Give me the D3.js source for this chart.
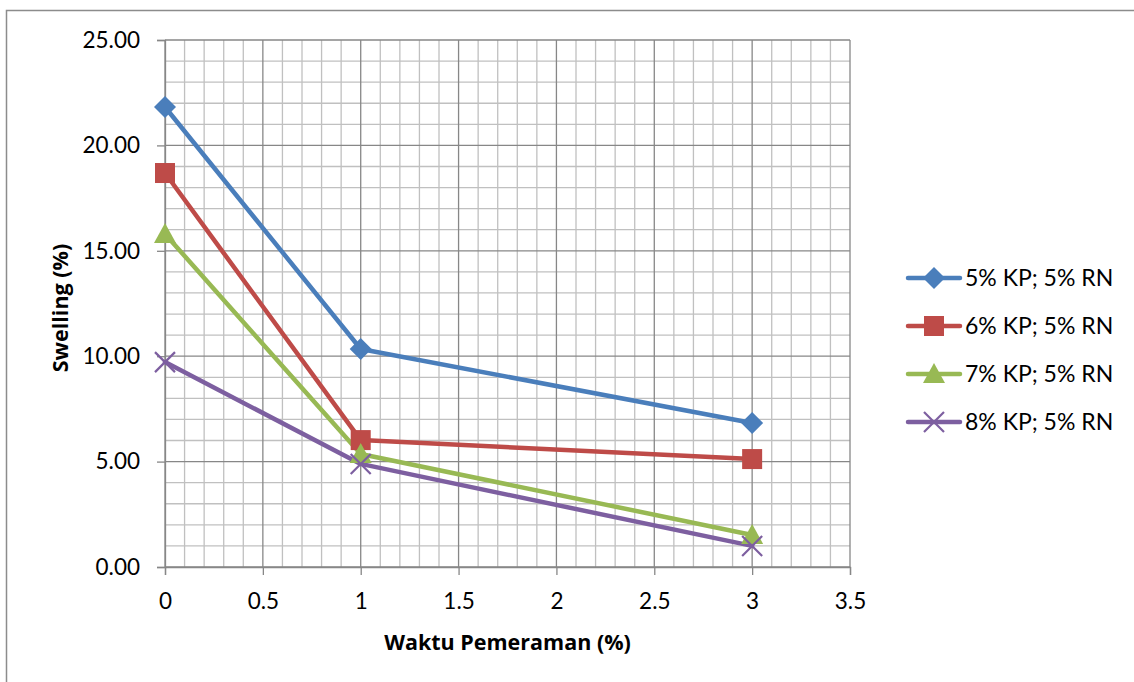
<!DOCTYPE html>
<html>
<head>
<meta charset="utf-8">
<script src="https://cdn.jsdelivr.net/npm/d3@7"></script>
<style>
  body { margin: 0; background: #fff; }
  svg { display: block; font-family: Lato, "Open Sans", sans-serif; }
</style>
</head>
<body>
<div id="chart"></div>
<script>
// Chart size and plot margins.
const WIDTH = 1134;
const HEIGHT = 682;
const M = { left: 165, right: 284, top: 40, bottom: 115 };

// Data.
const xValues = [0, 1, 3];
const seriesNames = ["5% KP; 5% RN", "6% KP; 5% RN", "7% KP; 5% RN", "8% KP; 5% RN"];
const kp5 = [21.82, 10.34, 6.83];
const kp6 = [18.69, 6.02, 5.12];
const kp7 = [15.8, 5.36, 1.52];
const kp8 = [9.72, 4.89, 1.0];
const xTicks = [0, 0.5, 1, 1.5, 2, 2.5, 3, 3.5];
const yTicks = [0, 5, 10, 15, 20, 25];

const COLORS = ["#4a7ebb", "#be4b48", "#98b954", "#7d5fa0"];
const SYMBOLS = ["diamond", "square", "triangle", "cross"];

const series = [kp5, kp6, kp7, kp8].map((vals, i) => ({
  name: seriesNames[i],
  color: COLORS[i],
  symbol: SYMBOLS[i],
  points: vals.map((v, j) => ({ x: xValues[j], y: v })),
}));

let svg = d3
  .select("#chart")
  .append("svg")
  .attr("width", WIDTH)
  .attr("height", HEIGHT);

// Outer chart frame.
svg.append("rect")
  .attr("x", 6.5).attr("y", 10.5)
  .attr("width", WIDTH + 10).attr("height", HEIGHT + 10)
  .attr("fill", "none").attr("stroke", "#8c8c8c").attr("stroke-width", 1.5);

let x = d3.scaleLinear().domain([0, 3.5]).range([M.left, WIDTH - M.right]);
let y = d3.scaleLinear().domain([0, 25]).range([HEIGHT - M.bottom, M.top]);

let grid = svg.append("g");

// Minor gridlines every 0.1 on x and 1 on y.
let minorX = d3.range(1, 35).filter((i) => i % 5 !== 0).map((i) => i / 10);
let minorY = d3.range(1, 25).filter((i) => i % 5 !== 0);

grid.selectAll(".mx").data(minorX).enter().append("line")
  .attr("x1", (d) => x(d)).attr("x2", (d) => x(d))
  .attr("y1", y(0)).attr("y2", y(25))
  .attr("stroke", "#c0c0c0").attr("stroke-width", 1.3);

grid.selectAll(".my").data(minorY).enter().append("line")
  .attr("x1", x(0)).attr("x2", x(3.5))
  .attr("y1", (d) => y(d)).attr("y2", (d) => y(d))
  .attr("stroke", "#c0c0c0").attr("stroke-width", 1.3);

// Major gridlines.
grid.selectAll(".Mx").data(xTicks).enter().append("line")
  .attr("x1", (d) => x(d)).attr("x2", (d) => x(d))
  .attr("y1", y(0)).attr("y2", y(25))
  .attr("stroke", "#878787").attr("stroke-width", 1.3);

grid.selectAll(".My").data(yTicks).enter().append("line")
  .attr("x1", x(0)).attr("x2", x(3.5))
  .attr("y1", (d) => y(d)).attr("y2", (d) => y(d))
  .attr("stroke", "#878787").attr("stroke-width", 1.3);

// Axes.
let xAxis = svg.append("g")
  .attr("transform", "translate(0," + y(0) + ")")
  .call(d3.axisBottom(x).tickValues(xTicks).tickSize(8).tickPadding(18)
    .tickFormat((d) => String(d)));
let yAxis = svg.append("g")
  .attr("transform", "translate(" + x(0) + ",0)")
  .call(d3.axisLeft(y).tickValues(yTicks).tickSize(8).tickPadding(17)
    .tickFormat(d3.format(".2f")));

[xAxis, yAxis].forEach((a) => {
  a.select(".domain").attr("stroke", "#878787").attr("stroke-width", 1.3);
  a.selectAll(".tick line").attr("stroke", "#878787").attr("stroke-width", 1.3);
  a.selectAll("text").attr("font-size", 22.5).attr("fill", "#000")
    .attr("font-family", "Lato, sans-serif");
});

// Axis titles.
svg.append("text")
  .attr("x", (x(0) + x(3.5)) / 2).attr("y", 650)
  .attr("text-anchor", "middle").attr("font-size", 21.5).attr("font-weight", "bold")
  .attr("font-family", "'Open Sans', sans-serif")
  .text("Waktu Pemeraman (%)");
svg.append("text")
  .attr("transform", "translate(68,308) rotate(-90)")
  .attr("text-anchor", "middle").attr("font-size", 21.5).attr("font-weight", "bold")
  .attr("font-family", "'Open Sans', sans-serif")
  .text("Swelling (%)");

let line = d3.line().x((d) => x(d.x)).y((d) => y(d.y));

// Draw a marker of the given kind at the origin of a group.
function drawMarker(g, kind, color) {
  if (kind === "diamond") {
    g.append("path").attr("d", "M0,-11L11,0L0,11L-11,0Z").attr("fill", color);
  } else if (kind === "square") {
    g.append("rect").attr("x", -10).attr("y", -10).attr("width", 20).attr("height", 20)
      .attr("fill", color);
  } else if (kind === "triangle") {
    g.append("path").attr("d", "M0,-11L11,9L-11,9Z").attr("fill", color);
  } else {
    g.append("path").attr("d", "M-10,-10L10,10M-10,10L10,-10")
      .attr("stroke", color).attr("stroke-width", 2.2).attr("fill", "none");
  }
}

let lines = svg.append("g");
series.forEach((s) => {
  lines.append("path")
    .datum(s.points)
    .attr("d", line)
    .attr("fill", "none")
    .attr("stroke", s.color)
    .attr("stroke-width", 4.5)
    .attr("stroke-linejoin", "round")
    .attr("stroke-linecap", "round");
});
series.forEach((s) => {
  s.points.forEach((p) => {
    let g = lines.append("g").attr("transform", "translate(" + x(p.x) + "," + y(p.y) + ")");
    drawMarker(g, s.symbol, s.color);
  });
});

// Legend.
let legend = svg.append("g").attr("transform", "translate(908,278)");
let item = legend.selectAll("g").data(series).enter().append("g")
  .attr("transform", (d, i) => "translate(0," + i * 48 + ")");
item.append("line")
  .attr("x1", 0).attr("x2", 52).attr("y1", 0).attr("y2", 0)
  .attr("stroke", (d) => d.color).attr("stroke-width", 4.5).attr("stroke-linecap", "round");
item.each(function (d) {
  let g = d3.select(this).append("g").attr("transform", "translate(26,0)");
  drawMarker(g, d.symbol, d.color);
});
item.append("text")
  .attr("x", 57).attr("y", 0).attr("dy", "0.36em")
  .attr("font-size", 23).attr("fill", "#000")
  .text((d) => d.name);
</script>
</body>
</html>
